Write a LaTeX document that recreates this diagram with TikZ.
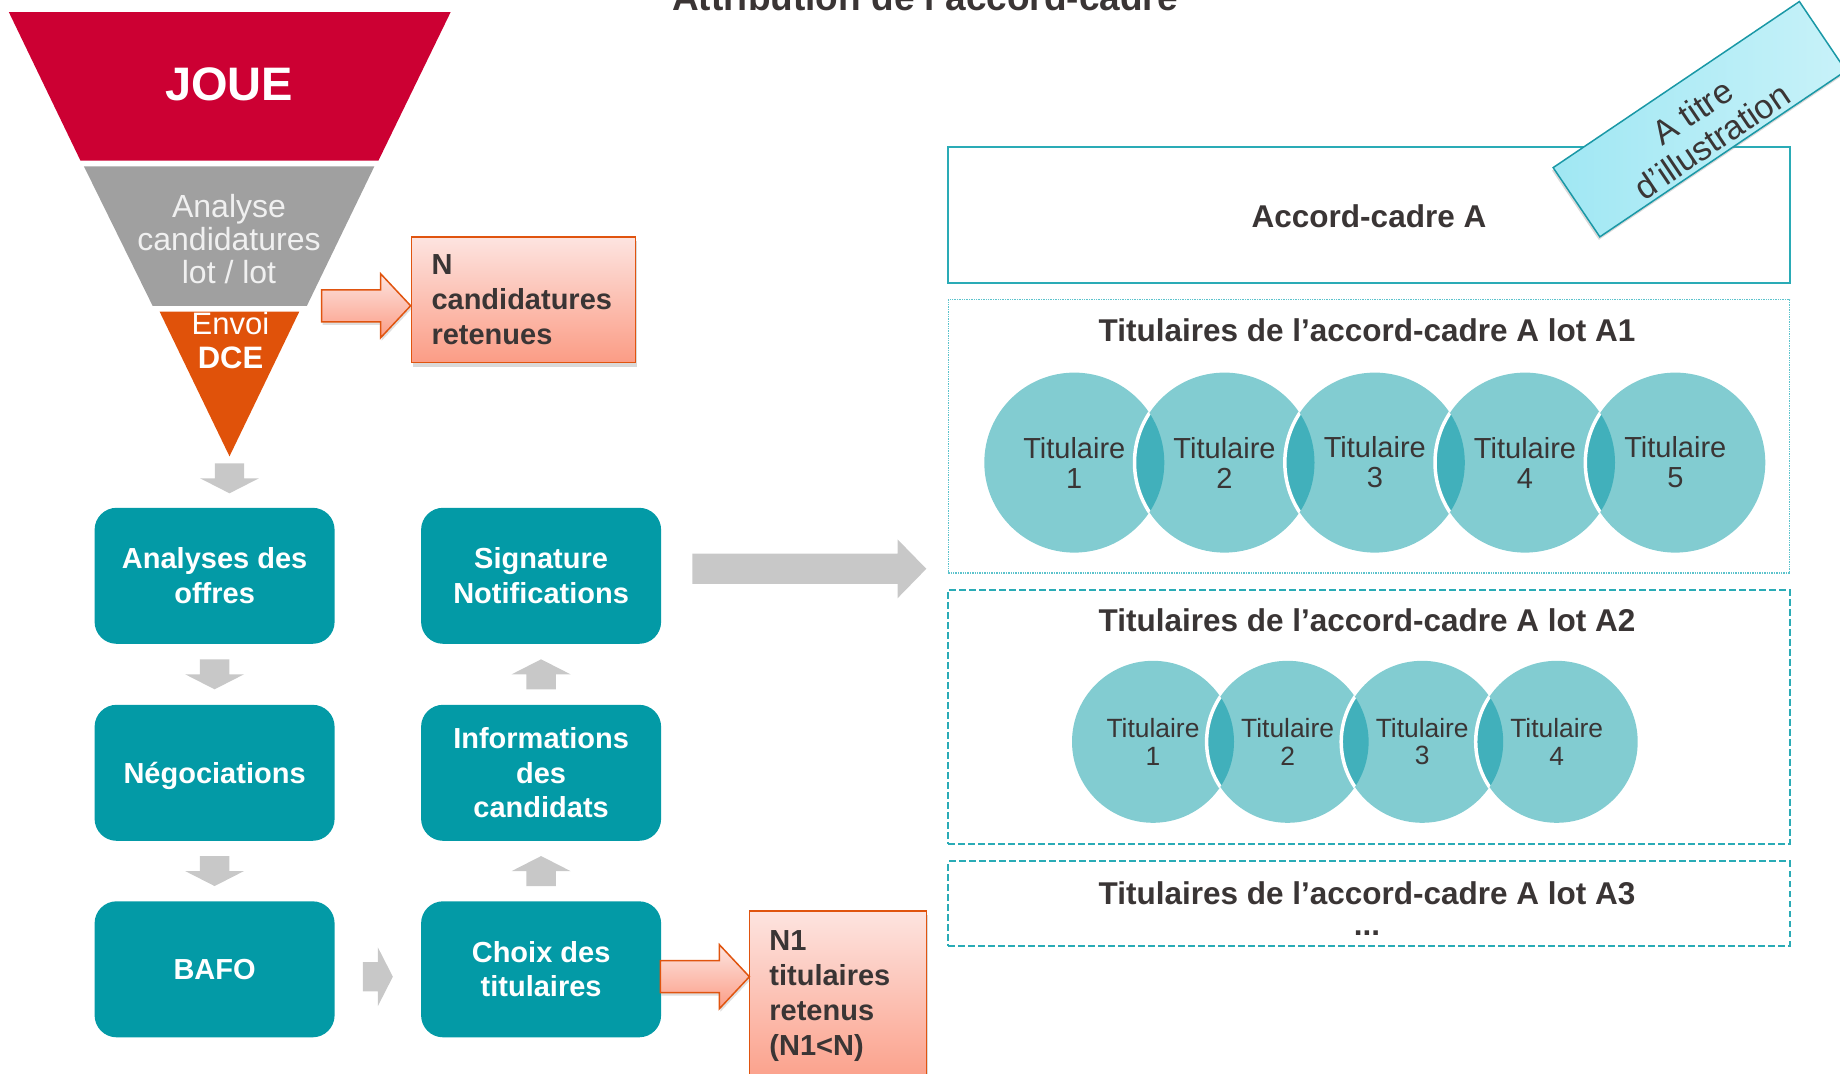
\documentclass[tikz,border=0pt]{standalone}
\usepackage{fontspec}
\setmainfont{Liberation Sans}
\usetikzlibrary{shadows,calc}
\definecolor{joue}{HTML}{CC0033}
\definecolor{fgray}{HTML}{A0A0A0}
\definecolor{forange}{HTML}{E0520A}
\definecolor{tealbox}{HTML}{039AA6}
\definecolor{agray}{HTML}{C8C8C8}
\definecolor{dtext}{HTML}{3A3535}
\definecolor{pinktop}{HTML}{FDE4E0}
\definecolor{pinkbot}{HTML}{FB9C85}
\definecolor{oborder}{HTML}{E0540F}
\definecolor{clight}{HTML}{82CCD1}
\definecolor{cdark}{HTML}{41B0BB}
\definecolor{frameteal}{HTML}{2AABB6}
\definecolor{framelight}{HTML}{5CC3CC}
\definecolor{bannerA}{HTML}{A0E7F3}
\definecolor{bannerB}{HTML}{C8F2F9}
\definecolor{bannerline}{HTML}{1A98A6}
\newcommand{\fsz}[2]{\fontsize{#1bp}{#2bp}\selectfont}
\tikzset{
  gdown/.pic={\fill[agray] (-14.7,-15) -- (14.7,-15) -- (14.7,0) -- (29.4,0) -- (0,15) -- (-29.4,0) -- (-14.7,0) -- cycle;},
  oright/.pic={\path[draw=oborder, line width=1.5bp, top color=pinktop, bottom color=pinkbot,
      drop shadow={shadow xshift=1bp, shadow yshift=-3bp, opacity=0.25}]
      (-89,-16) -- (-30,-16) -- (-30,-32) -- (0,0) -- (-30,32) -- (-30,16) -- (-89,16) -- cycle;},
  bigright/.pic={\fill[agray] (-234,-15.1) -- (-28.8,-15.1) -- (-28.8,-29.5) -- (0,0) -- (-28.8,29.5) -- (-28.8,15.1) -- (-234,15.1) -- cycle;}
}
\begin{document}
\begin{tikzpicture}[x=1bp,y=-1bp,
  stepbox/.style={fill=tealbox, rounded corners=22bp, minimum width=240bp, minimum height=136bp, inner sep=0pt, text=white, align=center, font=\fsz{29}{34.5}\bfseries},
  notebox/.style={draw=oborder, line width=1.5bp, top color=pinktop, bottom color=pinkbot, inner sep=0pt, drop shadow={shadow xshift=1.5bp, shadow yshift=-4bp, opacity=0.3}},
  notetext/.style={anchor=west, inner sep=0pt, align=left, text=dtext, font=\fsz{29}{35.2}\bfseries},
  frametitle/.style={inner sep=0pt, text=dtext, font=\fsz{31.5}{31.5}\bfseries, align=center},
  accframe/.style={draw=frameteal, line width=1.8bp, minimum width=841.5bp, inner sep=0pt},
  dotframe/.style={draw=framelight, line width=1.4bp, dash pattern=on 1.4bp off 1bp, minimum width=841.5bp, inner sep=0pt},
  dashframe/.style={draw=frameteal, line width=2bp, dash pattern=on 6.5bp off 3.5bp, minimum width=841.5bp, inner sep=0pt},
  tcircA/.style={circle, fill=clight, minimum size=180bp, inner sep=0pt, align=center, text=dtext, font=\fsz{29}{30}},
  tcircB/.style={circle, fill=clight, minimum size=162bp, inner sep=0pt, align=center, text=dtext, font=\fsz{26.4}{27.5}}
]
\useasboundingbox (0,0) rectangle (1840,1073);
\clip (0,0) rectangle (1840,1073);

% title (cut by the top edge)
\node[anchor=base, inner sep=0pt, text=dtext, font=\fsz{37}{40}\bfseries] (title) at (925,10) {Attribution de l’accord-cadre};

% funnel
\fill[joue] (8.8,12) -- (450.7,12) -- (378.5,160.5) -- (80.4,160.5) -- cycle;
\node[anchor=base, inner sep=0pt, text=white, font=\fsz{47}{50}\bfseries] (joue) at (229,100.6) {JOUE};
\fill[fgray] (83.9,166.3) -- (374.4,166.3) -- (306.9,305.8) -- (152.6,305.8) -- cycle;
\node[inner sep=0pt, align=center, text=white!94!black, font=\fsz{32}{33.2}] (analyse) at (229,239.3) {Analyse\\candidatures\\lot / lot};
\fill[forange] (159.6,311.6) -- (299.3,311.6) -- (229.5,456.3) -- cycle;
\coordinate (apex) at (229.5,456.3);
\node[inner sep=0pt, align=center, text=white, font=\fsz{31}{33.8}] (envoi) at (230.5,340.2) {Envoi\\\textbf{DCE}};

% N box
\node[notebox, minimum width=224.2bp, minimum height=125.7bp] (nbox) at (523.5,299.75) {};
\node[notetext] (ntext) at (431.3,299.9) {N\\candidatures\\retenues};
\pic at ($(nbox.west)+(0,6)$) {oright};

% step boxes
\node[stepbox] (b1) at (214.6,575.8) {Analyses des\\offres};
\node[stepbox, text depth=0pt] (b2) at (214.6,772.8) {Négociations};
\node[stepbox] (b3) at (214.6,969.3) {BAFO};
\node[stepbox] (c1) at (541.1,575.8) {Signature\\Notifications};
\node[stepbox] (c2) at (541.1,772.8) {Informations\\des\\candidats};
\node[stepbox] (c3) at (541.1,969.3) {Choix des\\titulaires};

% gray arrows
\pic at ($(apex)+(0,22)$) {gdown};
\pic at ($(b1.south)!0.5!(b2.north)$) {gdown};
\pic at ($(b2.south)!0.5!(b3.north)$) {gdown};
\pic[rotate=180] at ($(c1.south)!0.5!(c2.north)$) {gdown};
\pic[rotate=180] at ($(c2.south)!0.5!(c3.north)$) {gdown};
\pic[rotate=90] at ($(b3.east)!0.5!(c3.west)+(0,7.4)$) {gdown};
\pic at ($(c1.east)+(265,-7)$) {bigright};

% N1 box
\node[notebox, minimum width=176.9bp, minimum height=180bp] (n1box) at (837.85,1000.9) {};
\node[notetext] (n1text) at (769.2,996) {N1\\titulaires\\retenus\\(N1<N)};
\pic at ($(c3.east)+(88.1,7.4)$) {oright};

% right panel
\node[accframe, minimum height=136bp] (acc) at (1369,215) {};
\node[frametitle] (acct) at (1369,216) {Accord-cadre A};
\node[dotframe, minimum height=273.4bp] (lotA1) at (1369,436.3) {};
\node[frametitle] (t1) at (1367,330) {Titulaires de l’accord-cadre A lot A1};
\node[dashframe, minimum height=254.4bp] (lotA2) at (1369,716.8) {};
\node[frametitle] (t2) at (1367,620.2) {Titulaires de l’accord-cadre A lot A2};
\node[dashframe, minimum height=84.3bp] (lotA3) at (1369,903.5) {};
\node[frametitle] (t3) at (1367,908.5) {Titulaires de l’accord-cadre A lot A3\\...};

% circles lot A1
\foreach \n/\x in {1/1074.3,2/1224.5,3/1374.8,4/1525,5/1675.3}{
  \node[tcircA] (ca\n) at (\x,462.6) {Titulaire\\\n};
}
\foreach \i/\j in {ca1/ca2,ca2/ca3,ca3/ca4,ca4/ca5}{
  \begin{scope}
    \clip (\i.center) circle[radius=90bp];
    \fill[cdark] (\j.center) circle[radius=90bp];
    \draw[white, line width=3.5bp] (\j.center) circle[radius=90bp];
  \end{scope}
}
% circles lot A2
\foreach \n/\x in {1/1153,2/1287.6,3/1422.2,4/1556.7}{
  \node[tcircB] (cb\n) at (\x,741.8) {Titulaire\\\n};
}
\foreach \i/\j in {cb1/cb2,cb2/cb3,cb3/cb4}{
  \begin{scope}
    \clip (\i.center) circle[radius=81bp];
    \fill[cdark] (\j.center) circle[radius=81bp];
    \draw[white, line width=3.5bp] (\j.center) circle[radius=81bp];
  \end{scope}
}

% banner
\node[rotate=34, minimum width=297bp, minimum height=83.5bp, inner sep=0pt, draw=bannerline, line width=1.5bp, left color=bannerA, right color=bannerB, drop shadow={shadow xshift=-1bp, shadow yshift=-3bp, opacity=0.3}] (banner) at (1699.6,119.2) {};
\node[rotate=34, inner sep=0pt, align=center, text=dtext, font=\fsz{34}{35}] (bannertext) at (1702.1,126.5) {A titre\\d’illustration};
\end{tikzpicture}
\end{document}
